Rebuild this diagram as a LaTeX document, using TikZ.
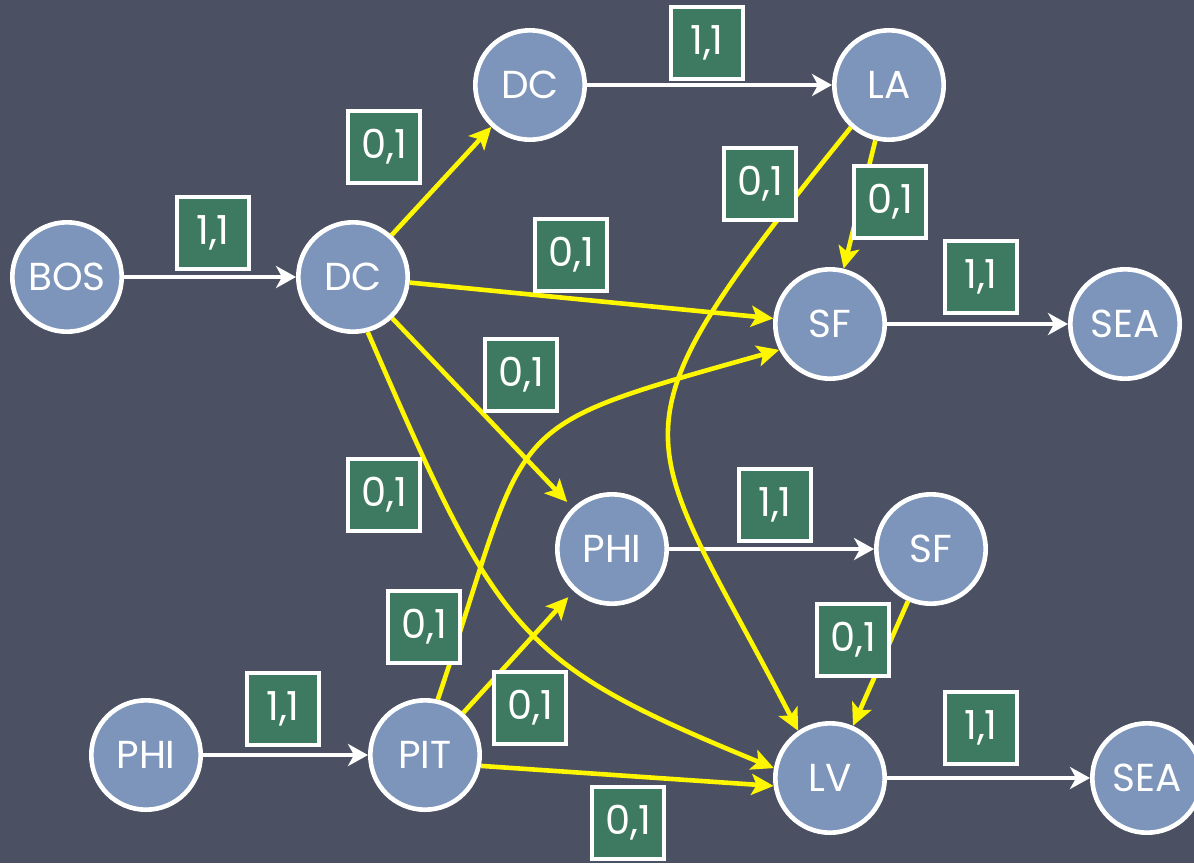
\documentclass[tikz,border=0pt]{standalone}
\usepackage{fontspec}
\setmainfont{Poppins}
\usetikzlibrary{arrows.meta}
\definecolor{board}{HTML}{4B5162}
\definecolor{citybg}{HTML}{7D95BA}
\definecolor{costbg}{HTML}{3E7A62}
\definecolor{hi}{HTML}{FFF700}
\tikzset{
  city/.style={circle, draw=white, line width=2.3pt, fill=citybg,
    minimum size=54.7pt, inner sep=0pt, text=white,
    font=\fontsize{19.5}{19.5}\selectfont},
  cost/.style={rectangle, draw=white, line width=2.1pt, fill=costbg,
    minimum size=35.9pt, inner sep=0pt, text=white,
    font=\fontsize{20}{20}\selectfont},
  plain/.style={draw=white, line width=2.1pt,
    -{Stealth[length=10pt,width=11pt,inset=3pt]}},
  zero/.style={draw=hi, line width=2.3pt,
    -{Stealth[length=11pt,width=10.5pt,inset=2.5pt]}},
}
\begin{document}
\begin{tikzpicture}[x=0.5pt,y=-0.5pt]
  % chalkboard
  \fill[board] (0,0) rectangle (1194,863);
  \useasboundingbox (0,0) rectangle (1194,863);
  \clip (0,0) rectangle (1194,863);

  % cities
  \node[city] (bos)  at (67,277)   {BOS};
  \node[city] (dca)  at (353,277)  {DC};
  \node[city] (dcb)  at (530,85)   {DC};
  \node[city] (la)   at (889,85)   {LA};
  \node[city] (sfa)  at (830,324)  {SF};
  \node[city] (seaa) at (1125,324) {SEA};
  \node[city] (phib) at (612,549)  {PHI};
  \node[city] (sfb)  at (931,549)  {SF};
  \node[city] (phia) at (146,755)  {PHI};
  \node[city] (pit)  at (425,755)  {PIT};
  \node[city] (lv)   at (830,778)  {LV};
  \node[city] (seab) at (1147,778) {SEA};

  % unit-cost legs
  \draw[plain] (bos) -- (dca);
  \draw[plain] (dcb) -- (la);
  \draw[plain] (sfa) -- (seaa);
  \draw[plain] (phib) -- (sfb);
  \draw[plain] (phia) -- (pit);
  \draw[plain] (lv) -- (seab);

  % zero-cost legs
  \draw[zero] (dca) -- (dcb);
  \draw[zero] (dca) -- (sfa);
  \draw[zero, shorten >=4pt] (dca) -- (phib);
  \draw[zero] (dca.-75) .. controls +(132,304) and +(-258,-106) .. (lv.170);
  \draw[zero] (la) -- (sfa);
  \draw[zero] (la.228) .. controls +(-255,316) and +(-160,-309) .. (lv.124);
  \draw[zero] (pit.77) .. controls +(96,-285) and +(-288,81) .. (sfa.207);
  \draw[zero, shorten >=4pt] (pit) -- (phib);
  \draw[zero] (pit.-11) -- (lv.188);
  \draw[zero] (sfb) -- (lv);

  % edge weights
  \node[cost] (w1)  at (213,233) {1,1};
  \node[cost] (w2)  at (707,43)  {1,1};
  \node[cost] (w3)  at (384,147) {0,1};
  \node[cost] (w4)  at (760,184) {0,1};
  \node[cost] (w5)  at (890,202) {0,1};
  \node[cost] (w6)  at (571,255) {0,1};
  \node[cost] (w7)  at (981,277) {1,1};
  \node[cost] (w8)  at (521,375) {0,1};
  \node[cost] (w9)  at (384,495) {0,1};
  \node[cost] (w10) at (775,505) {1,1};
  \node[cost] (w11) at (424,627) {0,1};
  \node[cost] (w12) at (530,708) {0,1};
  \node[cost] (w13) at (853,640) {0,1};
  \node[cost] (w14) at (283,709) {1,1};
  \node[cost] (w15) at (628,823) {0,1};
  \node[cost] (w16) at (981,728) {1,1};
\end{tikzpicture}
\end{document}
